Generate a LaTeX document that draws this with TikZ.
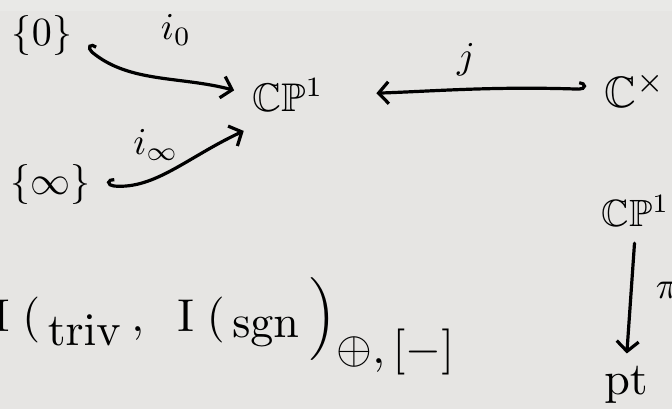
\documentclass[tikz,border=0pt]{standalone}
\usepackage{amssymb}
\usetikzlibrary{arrows.meta}
\definecolor{bg}{HTML}{E6E5E3}
\definecolor{bgtop}{HTML}{E9E9E7}
\begin{document}
\begin{tikzpicture}[x=1pt,y=-1pt,
  obj/.style={inner sep=0pt, scale=4.0},
  smallobj/.style={inner sep=0pt, scale=3.8},
  lab/.style={inner sep=0pt, scale=3.8},
  hk/.style={line width=3.2pt, line cap=round},
  hookR/.style={arrows={Hooks[right,length=7pt,width=16pt,line width=3.2pt]-Straight Barb[length=10pt,width=22pt,line width=3.2pt]}},
  hookL/.style={arrows={Hooks[left,length=7pt,width=16pt,line width=3.2pt]-Straight Barb[length=10pt,width=22pt,line width=3.2pt]}},
  plain/.style={arrows={-Straight Barb[length=10pt,width=22pt,line width=3.2pt]}},
]
\fill[bg] (0,0) rectangle (672,409);
\fill[bgtop] (0,0) rectangle (672,11);
\useasboundingbox (0,0) rectangle (672,409);

\node[obj] (z0) at (42,36) {$\{0\}$};
\node[obj] (zi) at (50,184) {$\{\infty\}$};
\node[obj] (P1) at (288,95) {$\mathbb{C}\mathbb{P}^{1}$};
\node[obj, scale=1.1, anchor=west] (Cx) at (604,90) {$\mathbb{C}^{\times}$};
\node[smallobj, anchor=west] (P1b) at (601,211) {$\mathbb{C}\mathbb{P}^{1}$};
\node[obj, scale=1.15] (pt) at (626,385) {$\mathrm{pt}$};

\draw[hk, hookR, shorten <=18pt, shorten >=18pt]
  (z0.east) to[out=-40,in=165] (P1.west);
\draw[hk, hookR, shorten <=16pt, shorten >=2pt]
  (zi.east) to[out=-5,in=205] ([shift={(-6,18)}]P1.south west);
\draw[hk, hookL, shorten <=18pt, shorten >=52pt]
  (Cx.west) to[out=178,in=2] (P1.east);
\draw[hk, plain, shorten <=16pt, shorten >=12pt] (P1b.south) -- (pt.north);

\node[lab] (l0) at (176,30) {$i_{0}$};
\node[lab] (li) at (156,145) {$i_{\infty}$};
\node[lab] (lj) at (466,60) {$j$};
\node[lab, anchor=west] (lp) at (655,290) {$\pi$};

\node[inner sep=0pt, anchor=base west, scale=4.6] (bot) at (-8,331)
  {$\mathrm{I}\;(\,{}_{\textstyle\mathrm{triv}}\,,\;\; \mathrm{I}\;(\,{}_{\textstyle\mathrm{sgn}}\,\Big)_{\textstyle\oplus,[-]}$};
\end{tikzpicture}
\end{document}
